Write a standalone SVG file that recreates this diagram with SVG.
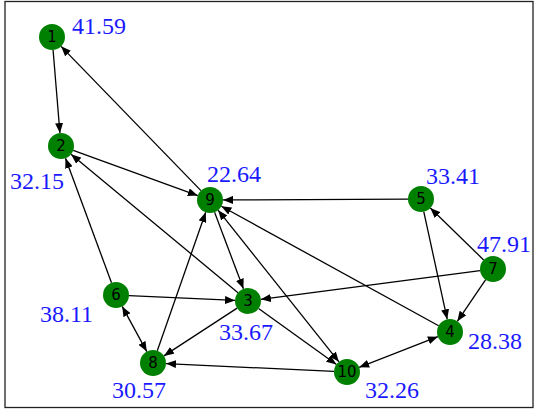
<svg xmlns="http://www.w3.org/2000/svg" width="535" height="411" viewBox="0 0 535 411">
<style>
.edge{stroke:#000;stroke-width:1.3;fill:none;marker-end:url(#ah)}
.bi{marker-start:url(#ahs)}
.node circle{fill:#008000}
.node text{font-family:"DejaVu Sans",sans-serif;font-size:15px;fill:#000;text-anchor:middle;dominant-baseline:central}
.lbl{font-family:"Liberation Serif","Times New Roman",serif;font-size:24px;fill:#1a1aff}
</style>
<defs>
<marker id="ah" markerUnits="userSpaceOnUse" markerWidth="10" markerHeight="8" viewBox="0 0 10 8" refX="10" refY="4" orient="auto"><path d="M0,0 L10,4 L0,8 z" fill="#000"/></marker>
<marker id="ahs" markerUnits="userSpaceOnUse" markerWidth="10" markerHeight="8" viewBox="0 0 10 8" refX="10" refY="4" orient="auto-start-reverse"><path d="M0,0 L10,4 L0,8 z" fill="#000"/></marker>
</defs>
<rect x="5" y="1.5" width="528" height="406" fill="#fff" stroke="#222" stroke-width="1.3"/>
<g id="edges">
<line class="edge" x1="53.07" y1="49.96" x2="59.93" y2="133.04"/>
<line class="edge" x1="200.95" y1="190.67" x2="61.05" y2="46.33"/>
<line class="edge" x1="73.22" y1="150.43" x2="197.78" y2="195.57"/>
<line class="edge" x1="111.5" y1="282.8" x2="65.5" y2="158.2"/>
<line class="edge" x1="237.99" y1="292.7" x2="71.01" y2="154.3"/>
<line class="edge" x1="408" y1="199.06" x2="223" y2="199.94"/>
<line class="edge" x1="438.61" y1="325.73" x2="221.39" y2="206.27"/>
<line class="edge bi" x1="218.1" y1="210.17" x2="338.9" y2="361.83"/>
<line class="edge" x1="157.29" y1="350.73" x2="205.71" y2="212.27"/>
<line class="edge" x1="214.58" y1="212.17" x2="243.42" y2="288.83"/>
<line class="edge" x1="128.99" y1="295.59" x2="235.01" y2="300.41"/>
<line class="edge" x1="480.11" y1="270.68" x2="260.89" y2="299.32"/>
<line class="edge" x1="237.11" y1="308.11" x2="163.89" y2="355.89"/>
<line class="edge" x1="258.56" y1="308.58" x2="336.44" y2="364.42"/>
<line class="edge bi" x1="122.21" y1="306.42" x2="146.79" y2="351.58"/>
<line class="edge" x1="334.01" y1="371.4" x2="165.99" y2="363.6"/>
<line class="edge bi" x1="437.88" y1="336.71" x2="359.12" y2="367.29"/>
<line class="edge" x1="423.77" y1="211.7" x2="447.23" y2="319.3"/>
<line class="edge" x1="485.67" y1="279.74" x2="457.33" y2="321.26"/>
<line class="edge" x1="483.68" y1="259.94" x2="430.32" y2="208.06"/>
</g>
<g id="node1" class="node"><circle cx="52" cy="37" r="13"/><text x="52" y="37">1</text></g>
<g id="node2" class="node"><circle cx="61" cy="146" r="13"/><text x="61" y="146">2</text></g>
<g id="node3" class="node"><circle cx="248" cy="301" r="13"/><text x="248" y="301">3</text></g>
<g id="node4" class="node"><circle cx="450" cy="332" r="13"/><text x="450" y="332">4</text></g>
<g id="node5" class="node"><circle cx="421" cy="199" r="13"/><text x="421" y="199">5</text></g>
<g id="node6" class="node"><circle cx="116" cy="295" r="13"/><text x="116" y="295">6</text></g>
<g id="node7" class="node"><circle cx="493" cy="269" r="13"/><text x="493" y="269">7</text></g>
<g id="node8" class="node"><circle cx="153" cy="363" r="13"/><text x="153" y="363">8</text></g>
<g id="node9" class="node"><circle cx="210" cy="200" r="13"/><text x="210" y="200">9</text></g>
<g id="node10" class="node"><circle cx="347" cy="372" r="13"/><text x="347" y="372">10</text></g>
<g id="labels">
<text class="lbl" x="72" y="34">41.59</text>
<text class="lbl" x="10" y="189">32.15</text>
<text class="lbl" x="207" y="182">22.64</text>
<text class="lbl" x="426" y="184">33.41</text>
<text class="lbl" x="477" y="252">47.91</text>
<text class="lbl" x="40" y="322">38.11</text>
<text class="lbl" x="219" y="340">33.67</text>
<text class="lbl" x="112" y="398">30.57</text>
<text class="lbl" x="365" y="398">32.26</text>
<text class="lbl" x="468" y="349">28.38</text>
</g>
</svg>
